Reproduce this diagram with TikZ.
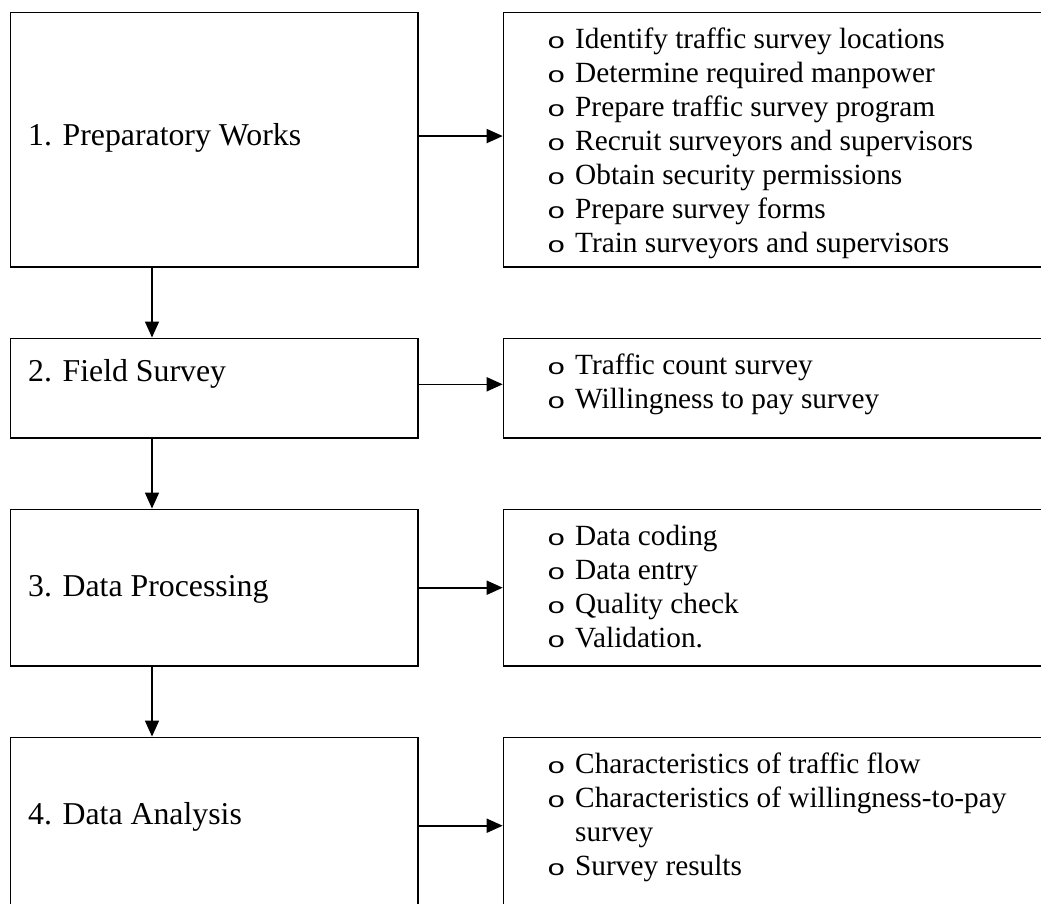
\documentclass[tikz,border=0pt]{standalone}
\usepackage{fontspec}
\usepackage{graphicx}
\setmainfont{Liberation Serif}
\newfontfamily\bulfont{Liberation Mono}
\usetikzlibrary{arrows.meta}
\newcommand{\bul}{\makebox[28pt][l]{\scalebox{1.4}[1]{\fontsize{22}{22}\bulfont o}}}
\newcommand{\nobul}{\makebox[28pt][l]{}}
\tikzset{
  stagebox/.style={draw, line width=1.6pt, inner sep=0pt, minimum width=407.5pt},
  listbox/.style={draw, line width=1.6pt, inner sep=0pt, minimum width=556.5pt},
  stagetext/.style={anchor=base west, inner sep=0pt, font=\fontsize{31.8}{38}\selectfont},
  listtext/.style={anchor=base west, inner sep=0pt, font=\fontsize{29.3}{34}\selectfont},
  flow/.style={line width=1.6pt, -{Triangle[length=16pt,width=14pt]}}
}

\begin{document}
\begin{tikzpicture}[x=1pt,y=-1pt]
\useasboundingbox (0,0) rectangle (1041,903);
\clip (0,0) rectangle (1041,903);
% stages
\node[stagebox, minimum height=254.5pt] (s1) at (214.25,139.75) {};
\node[stagebox, minimum height=99.4pt] (s2) at (214.25,388) {};
\node[stagebox, minimum height=156.7pt] (s3) at (214.25,587.7) {};
\node[stagebox, minimum height=176.7pt] (s4) at (214.25,825.7) {};
\node[stagetext] (t1) at (28,145) {1. Preparatory Works};
\node[stagetext] (t2) at (28,381.7) {2. Field Survey};
\node[stagetext] (t3) at (28,596.7) {3. Data Processing};
\node[stagetext] (t4) at (28,824.3) {4. Data Analysis};
% task lists
\node[listbox, minimum height=254.5pt] (r1) at (781.75,139.75) {};
\node[listbox, minimum height=99.4pt] (r2) at (781.75,388) {};
\node[listbox, minimum height=156.7pt] (r3) at (781.75,587.7) {};
\node[listbox, minimum height=176.7pt] (r4) at (781.75,825.7) {};
\node[listtext] (l1) at (547,48.3) {\begin{tabular}[t]{@{}l@{}}
  \bul Identify traffic survey locations\\
  \bul Determine required manpower\\
  \bul Prepare traffic survey program\\
  \bul Recruit surveyors and supervisors\\
  \bul Obtain security permissions\\
  \bul Prepare survey forms\\
  \bul Train surveyors and supervisors
\end{tabular}};
\node[listtext] (l2) at (547,374) {\begin{tabular}[t]{@{}l@{}}
  \bul Traffic count survey\\
  \bul Willingness to pay survey
\end{tabular}};
\node[listtext] (l3) at (547,545) {\begin{tabular}[t]{@{}l@{}}
  \bul Data coding\\
  \bul Data entry\\
  \bul Quality check\\
  \bul Validation.
\end{tabular}};
\node[listtext] (l4) at (547,773.3) {\begin{tabular}[t]{@{}l@{}}
  \bul Characteristics of traffic flow\\
  \bul Characteristics of willingness-to-pay\\
  \nobul survey\\
  \bul Survey results
\end{tabular}};
% arrows
\draw[flow] ([yshift=3.7pt]s1.east) -- ([yshift=3.7pt]r1.west);
\draw[flow] ([yshift=3.7pt]s2.east) -- ([yshift=3.7pt]r2.west);
\draw[flow] (s3.east) -- (r3.west);
\draw[flow] (s4.east) -- (r4.west);
\foreach \a/\b in {s1/s2,s2/s3,s3/s4}
  \draw[flow] ([xshift=142.3pt]\a.south west) -- ([xshift=142.3pt]\b.north west);
\end{tikzpicture}
\end{document}
